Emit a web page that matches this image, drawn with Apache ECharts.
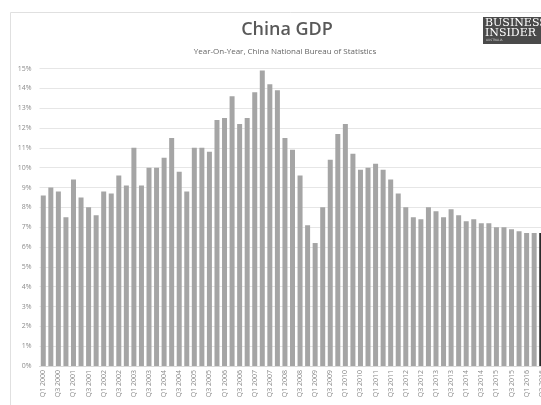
<!DOCTYPE html>
<html>
<head>
<meta charset="utf-8">
<script src="https://cdn.jsdelivr.net/npm/echarts@6/dist/echarts.min.js"></script>
<style>
html,body{margin:0;padding:0;background:#fff;overflow:hidden;}
#chart{width:570px;height:405px;}
</style>
</head>
<body>
<div id="chart"></div>
<script>
var categories = [
 'Q1 2000','Q2 2000','Q3 2000','Q4 2000',
 'Q1 2001','Q2 2001','Q3 2001','Q4 2001',
 'Q1 2002','Q2 2002','Q3 2002','Q4 2002',
 'Q1 2003','Q2 2003','Q3 2003','Q4 2003',
 'Q1 2004','Q2 2004','Q3 2004','Q4 2004',
 'Q1 2005','Q2 2005','Q3 2005','Q4 2005',
 'Q1 2006','Q2 2006','Q3 2006','Q4 2006',
 'Q1 2007','Q2 2007','Q3 2007','Q4 2007',
 'Q1 2008','Q2 2008','Q3 2008','Q4 2008',
 'Q1 2009','Q2 2009','Q3 2009','Q4 2009',
 'Q1 2010','Q2 2010','Q3 2010','Q4 2010',
 'Q1 2011','Q2 2011','Q3 2011','Q4 2011',
 'Q1 2012','Q2 2012','Q3 2012','Q4 2012',
 'Q1 2013','Q2 2013','Q3 2013','Q4 2013',
 'Q1 2014','Q2 2014','Q3 2014','Q4 2014',
 'Q1 2015','Q2 2015','Q3 2015','Q4 2015',
 'Q1 2016','Q2 2016','Q3 2016'
];
var gdpGrowth = [
 8.6, 9.0, 8.8, 7.5,
 9.4, 8.5, 8.0, 7.6,
 8.8, 8.7, 9.6, 9.1,
 11.0, 9.1, 10.0, 10.0,
 10.5, 11.5, 9.8, 8.8,
 11.0, 11.0, 10.8, 12.4,
 12.5, 13.6, 12.2, 12.5,
 13.8, 14.9, 14.2, 13.9,
 11.5, 10.9, 9.6, 7.1,
 6.2, 8.0, 10.4, 11.7,
 12.2, 10.7, 9.9, 10.0,
 10.2, 9.9, 9.4, 8.7,
 8.0, 7.5, 7.4, 8.0,
 7.8, 7.5, 7.9, 7.6,
 7.3, 7.4, 7.2, 7.2,
 7.0, 7.0, 6.9, 6.8,
 6.7, 6.7, 6.7
];
var yTicks = [0,1,2,3,4,5,6,7,8,9,10,11,12,13,14,15];
var titleText = 'China GDP';
var subtitleText = 'Year-On-Year, China National Bureau of Statistics';

var chart = echarts.init(document.getElementById('chart'), null, {renderer:'canvas'});
var lastIdx = gdpGrowth.length - 1;
var option = {
  animation: false,
  backgroundColor: '#fff',
  title: [{
    text: titleText,
    left: 282, top: 16, textAlign: 'center',
    textStyle: {fontFamily: 'Open Sans', fontSize: 18, fontWeight: 600, color: '#595959'}
  },{
    text: subtitleText,
    left: 280, top: 43, textAlign: 'center',
    textStyle: {fontFamily: 'Open Sans', fontSize: 8, fontWeight: 'normal', color: '#666'}
  }],
  grid: {left: 39.5, top: 68.5, width: 506, height: 297.5, containLabel: false},
  xAxis: {
    type: 'category',
    data: categories,
    axisLine: {show: true, lineStyle: {color: '#d9d9d9'}},
    axisTick: {show: false},
    axisLabel: {interval: 1, rotate: 90, fontSize: 7, color: '#8c8c8c', fontFamily: 'Open Sans', margin: 4}
  },
  yAxis: {
    type: 'value',
    min: yTicks[0], max: yTicks[yTicks.length-1], interval: 1,
    axisLine: {show: false},
    axisTick: {show: false},
    splitLine: {lineStyle: {color: '#e6e6e6', width: 1}},
    axisLabel: {formatter: '{value}%', fontSize: 7, color: '#8c8c8c', fontFamily: 'Open Sans', margin: 8}
  },
  series: [{
    type: 'bar',
    barWidth: 5,
    data: gdpGrowth.map(function(v, i){
      return i === lastIdx ? {value: v, itemStyle: {color: '#2b2b2b'}} : v;
    }),
    itemStyle: {color: '#a5a5a5'}
  }],
  graphic: [{
    type: 'rect', z: -1,
    shape: {x: 10.5, y: 12.5, width: 580, height: 420},
    style: {fill: 'none', stroke: '#e0e0e0', lineWidth: 1}
  },{
    type: 'group', left: 483, top: 17,
    children: [{
      type: 'rect', shape: {x: 0, y: 0, width: 75, height: 27},
      style: {fill: '#4a4a4a'}
    },{
      type: 'text', left: 2, top: 1,
      style: {text: 'BUSINESS', fill: '#fff', font: '11px "DejaVu Serif"'}
    },{
      type: 'text', left: 2, top: 11,
      style: {text: 'INSIDER', fill: '#fff', font: '11px "DejaVu Serif"'}
    },{
      type: 'text', left: 3, top: 22,
      style: {text: 'AUSTRALIA', fill: '#ccc', font: '3px "DejaVu Sans"'}
    }]
  }]
};
chart.setOption(option);
</script>
</body>
</html>
